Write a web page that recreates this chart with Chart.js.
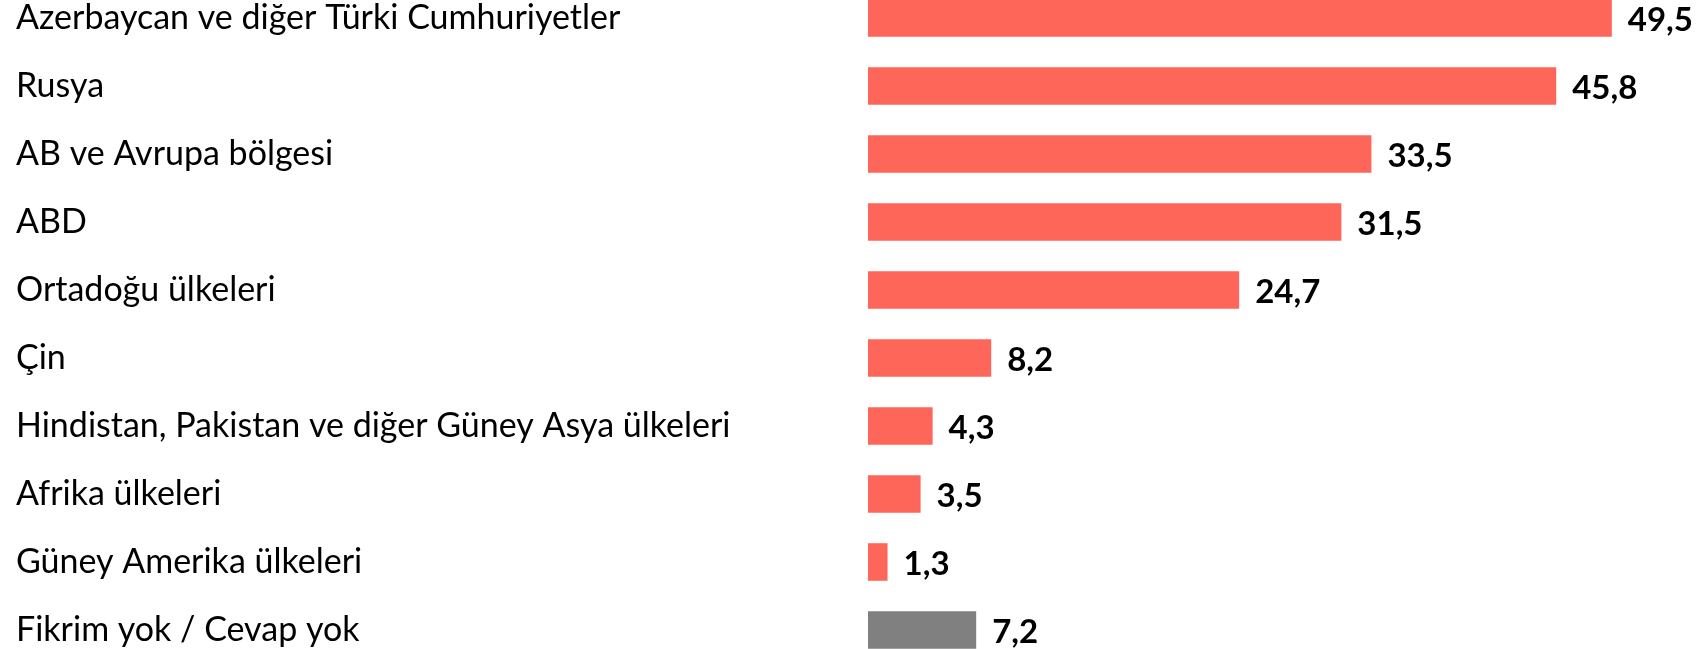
<!DOCTYPE html>
<html lang="tr">
<head>
<meta charset="utf-8">
<title>Bölgeler</title>
<script src="https://cdn.jsdelivr.net/npm/chart.js@4.4.1/dist/chart.umd.min.js"></script>
<style>
  html, body { margin: 0; padding: 0; background: #fff; overflow: hidden; }
  body { width: 1708px; height: 649px; position: relative; }
  #wrap { position: absolute; left: 0; top: -16px; width: 1708px; height: 680px; }
</style>
</head>
<body>
<div id="wrap"><canvas id="chart-regions"></canvas></div>
<script>
// categories + values
const regionLabels = [
  "Azerbaycan ve diğer Türki Cumhuriyetler",
  "Rusya",
  "AB ve Avrupa bölgesi",
  "ABD",
  "Ortadoğu ülkeleri",
  "Çin",
  "Hindistan, Pakistan ve diğer Güney Asya ülkeleri",
  "Afrika ülkeleri",
  "Güney Amerika ülkeleri",
  "Fikrim yok / Cevap yok"
];
const regionValues = [49.5, 45.8, 33.5, 31.5, 24.7, 8.2, 4.3, 3.5, 1.3, 7.2];
// last one ("no answer") is grey
const barColors = regionValues.map((v, i) => i === regionValues.length - 1 ? "#808080" : "#FF665A");

const LABEL_FONT = "Lato, 'Open Sans', sans-serif";

// draws the "49,5" style numbers at the end of each bar
const valueLabels = {
  id: "valueLabels",
  afterDatasetsDraw(chart) {
    const ctx = chart.ctx;
    const meta = chart.getDatasetMeta(0);
    ctx.save();
    ctx.font = "bold 33px " + LABEL_FONT;
    ctx.fillStyle = "#000";
    ctx.textAlign = "left";
    ctx.textBaseline = "middle";
    meta.data.forEach((bar, i) => {
      const txt = regionValues[i].toFixed(1).replace(".", ",");
      ctx.fillText(txt, bar.x + 16, bar.y + 2);
    });
    ctx.restore();
  }
};

const ctx = document.getElementById("chart-regions").getContext("2d");
const regionChart = new Chart(ctx, {
  type: "bar",
  data: {
    labels: regionLabels,
    datasets: [{
      data: regionValues,
      backgroundColor: barColors,
      borderWidth: 0,
      barPercentage: 0.553,
      categoryPercentage: 1
    }]
  },
  options: {
    indexAxis: "y",
    responsive: true,
    maintainAspectRatio: false,
    animation: false,
    layout: { padding: { left: 16, right: 0, top: 0, bottom: 0 } },
    plugins: {
      legend: { display: false },
      tooltip: { enabled: false }
    },
    scales: {
      x: {
        display: false,
        min: 0,
        max: 55.9
      },
      y: {
        grid: { display: false },
        border: { display: false },
        ticks: {
          autoSkip: false,
          crossAlign: "far",
          color: "#000",
          padding: 0,
          font: { family: LABEL_FONT, size: 34 }
        },
        afterFit(scale) {
          // bars start at x = 868 in the original
          scale.width = 868 - 16;
          // no extra room above/below for the tick text
          scale.paddingTop = 0;
          scale.paddingBottom = 0;
        }
      }
    }
  },
  plugins: [valueLabels]
});
</script>
</body>
</html>
